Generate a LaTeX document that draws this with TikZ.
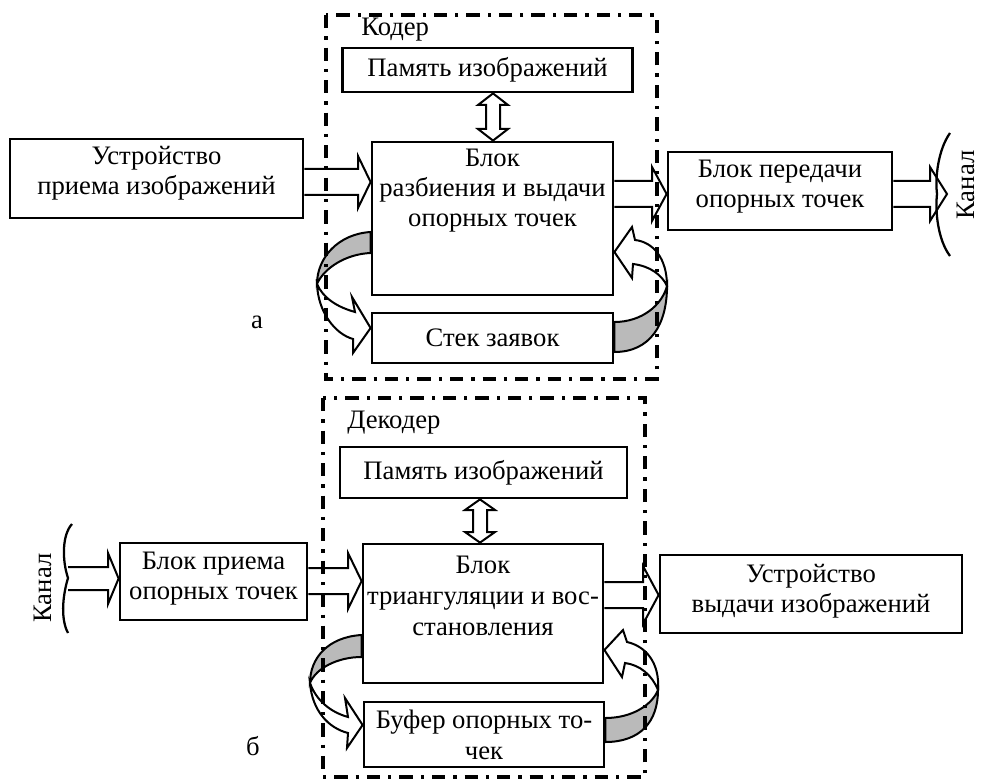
\documentclass[tikz,border=0pt]{standalone}
\usepackage{fontspec}
\setmainfont{Liberation Serif}
\usetikzlibrary{calc}
\begin{document}
\begin{tikzpicture}[x=0.75pt,y=-0.75pt,
  box/.style={draw,line width=2.1pt,fill=white,inner sep=0pt,align=center,font=\fontsize{20}{22.5}\selectfont},
  txt/.style={align=center,inner sep=0pt,font=\fontsize{20}{22.5}\selectfont},
  frame/.style={line width=2.6pt,dash pattern=on 10pt off 6pt on 2.4pt off 6pt},
  fat/.style={draw,line width=1.5pt,fill=white,line join=miter},
  band/.style={draw,line width=1.5pt,fill=black!27},
  chan/.style={line width=1.7pt}]
\useasboundingbox (0,0) rectangle (984,780);

% ---------- coder (a) ----------
\node[box,minimum width=218pt,minimum height=33pt] (mem1) at (487.5,70) {Память изображений};
\node[box,minimum width=180.75pt,minimum height=114.75pt] (main1) at (492.5,218.5) {};
\node[txt] (main1t) at (492.5,191) {Блок\\разбиения и выдачи\\опорных точек};
\node[box,minimum width=219.75pt,minimum height=59.25pt] (dev1) at (156.5,178.5) {};
\node[txt] (dev1t) at (156.5,173) {Устройство\\приема изображений};
\node[box,minimum width=168pt,minimum height=58.5pt] (tx1) at (780,191) {};
\node[txt] (tx1t) at (780,187) {Блок передачи\\опорных точек};
\node[box,minimum width=180.75pt,minimum height=37.5pt] (stack) at (492.5,338) {Стек заявок};
\node[txt,anchor=west] (coder) at (361,30) {Кодер};
\node[txt] (la) at (257,322) {а};
\coordinate (ch1) at (947,194);
\node[txt,rotate=90] (kanal1) at (966,185) {Канал};

% arrows
\draw[fat] (dev1.east |- 0,169) -- (358,169) -- (358,156) -- (main1.west |- 0,182) -- (358,208) -- (358,195) -- (dev1.east |- 0,195);
\draw[fat] (main1.east |- 0,181) -- (652,181) -- (652,167) -- (tx1.west |- 0,194) -- (652,221) -- (652,207) -- (main1.east |- 0,207);
\draw[fat] (tx1.east |- 0,181) -- (930,181) -- (930,167) -- (ch1) -- (930,221) -- (930,207) -- (tx1.east |- 0,207);
\draw[fat] (486,105) -- (478,105) -- (mem1.south -| 493,0) -- (508,105) -- (500,105) -- (500,129) -- (508,129) -- (main1.north -| 493,0) -- (478,129) -- (486,129) -- cycle;
\draw[chan] (950,133) .. controls (938,150) and (935,178) .. (937,194) .. controls (935,212) and (938,240) .. (950,256);

% ribbons
\draw[band] (main1.west |- 0,232) .. controls (338,234) and (317,258) .. (317,284) .. controls (324,268) and (346,254) .. (main1.west |- 0,253) -- cycle;
\draw[fat] (317,284) .. controls (318,312) and (335,334) .. (353,339) -- (353,353) -- (stack.west |- 0,328) -- (352,297) -- (355,312) .. controls (337,307) and (323,298) .. (317,284) -- cycle;
\draw[band] (stack.east |- 0,352) .. controls (650,352) and (667,325) .. (667,286) .. controls (662,305) and (642,322) .. (stack.east |- 0,322) -- cycle;
\draw[fat] (667,286) .. controls (667,258) and (653,242) .. (635,240) -- (632,227) -- (main1.east |- 0,252) -- (632,278) -- (633,264) .. controls (650,266) and (662,275) .. (667,286) -- cycle;

% ---------- decoder (b) ----------
\node[box,minimum width=215.25pt,minimum height=38.25pt] (mem2) at (483.5,472.5) {Память изображений};
\node[box,minimum width=180pt,minimum height=104.25pt] (main2) at (483,613.5) {};
\node[txt,font=\fontsize{20}{23}\selectfont] (main2t) at (483,596) {Блок\\триангуляции и вос-\\становления};
\node[box,minimum width=140.25pt,minimum height=57.75pt] (rx2) at (213.5,581.5) {};
\node[txt] (rx2t) at (213.5,579) {Блок приема\\опорных точек};
\node[box,minimum width=226.5pt,minimum height=58.5pt] (out2) at (811,594) {};
\node[txt] (out2t) at (811,591) {Устройство\\выдачи изображений};
\node[box,minimum width=180pt,minimum height=48.75pt] (buf) at (484,734.5) {};
\node[txt,font=\fontsize{20}{23.5}\selectfont] (buft) at (484,735) {Буфер опорных то-\\чек};
\node[txt,anchor=west] (decoder) at (347,423) {Декодер};
\node[txt] (lb) at (253,746) {б};
\coordinate (ch2) at (68,578.5);
\node[txt,rotate=90] (kanal2) at (43,588) {Канал};

\draw[fat] (ch2 |- 0,567) -- (108,567) -- (108,553) -- (rx2.west |- 0,578.5) -- (108,604) -- (108,590) -- (ch2 |- 0,590);
\draw[fat] (rx2.east |- 0,568) -- (348,568) -- (348,553) -- (main2.west |- 0,581) -- (348,609) -- (348,594) -- (rx2.east |- 0,594);
\draw[fat] (main2.east |- 0,582) -- (643,582) -- (643,566) -- (out2.west |- 0,595) -- (643,624) -- (643,608) -- (main2.east |- 0,608);
\draw[fat] (473,510) -- (465,510) -- (mem2.south -| 480,0) -- (495,510) -- (487,510) -- (487,532) -- (495,532) -- (main2.north -| 480,0) -- (465,532) -- (473,532) -- cycle;
\draw[chan] (72,524) .. controls (62,535) and (62,560) .. (68,578) .. controls (62,598) and (61,620) .. (68,633);

\draw[band] (main2.west |- 0,635) .. controls (328,637) and (310,658) .. (310,683) .. controls (316,668) and (338,657) .. (main2.west |- 0,657) -- cycle;
\draw[fat] (310,683) .. controls (312,710) and (328,728) .. (348,733) -- (347,748) -- (buf.west |- 0,725) -- (345,698) -- (348,717) .. controls (330,712) and (316,700) .. (310,683) -- cycle;
\draw[band] (buf.east |- 0,742) .. controls (640,742) and (658,722) .. (658,690) .. controls (652,705) and (632,718) .. (buf.east |- 0,718) -- cycle;
\draw[fat] (658,690) .. controls (660,662) and (645,646) .. (627,642) -- (623,630) -- (main2.east |- 0,650) -- (622,677) -- (625,663) .. controls (640,665) and (652,675) .. (658,690) -- cycle;

% frames
\draw[frame] (326,15) rectangle (657,379);
\draw[frame] (323,398) rectangle (645,777);
\end{tikzpicture}
\end{document}
